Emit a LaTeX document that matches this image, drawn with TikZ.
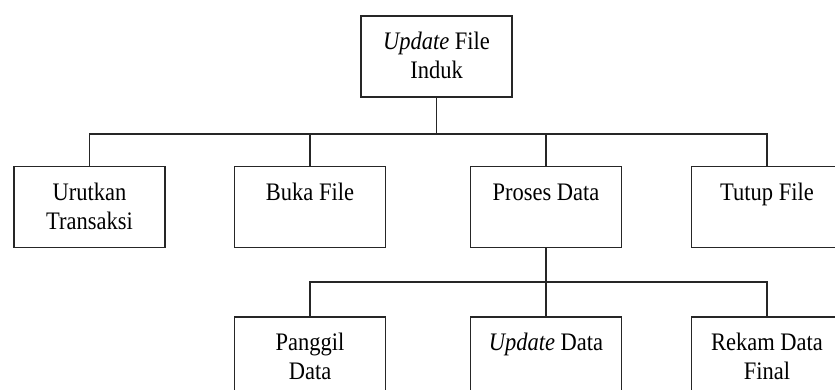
\documentclass[tikz,border=0pt]{standalone}
\usepackage{graphicx}
\usepackage{fontspec}
\setmainfont{Liberation Serif}
% box labels: Times-like face, slightly tall
\newcommand\boxlabel[1]{\scalebox{1}[1.12]{\parbox[t]{150pt}{\centering #1}}}
\begin{document}
\begin{tikzpicture}[x=1pt,y=-1pt,
  box/.style={draw=black!85, line width=1.3pt, minimum width=151pt,
    minimum height=81pt, inner sep=0pt},
  txt/.style={anchor=base, inner sep=0pt,
    font=\fontsize{22.5}{26}\selectfont},
  wire/.style={draw=black!85, line width=1.3pt}]
\clip (0,0) rectangle (835,390);
\fill[white] (0,0) rectangle (835,390);

% top level
\node[box] (root) at (436.5,56.5) {};
\node[txt] (rootT) at ([yshift=-34.5pt]root.north)
  {\boxlabel{\textit{Update} File\\Induk}};

% second level
\node[box] (urut)   at (89.5,207) {};
\node[box] (buka)   at (310,207) {};
\node[box] (proses) at (546,207) {};
\node[box] (tutup)  at (767,207) {};
\node[txt] (urutT)   at ([yshift=-34.5pt]urut.north)   {\boxlabel{Urutkan\\Transaksi}};
\node[txt] (bukaT)   at ([yshift=-34.5pt]buka.north)   {\boxlabel{Buka File}};
\node[txt] (prosesT) at ([yshift=-34.5pt]proses.north) {\boxlabel{Proses Data}};
\node[txt] (tutupT)  at ([yshift=-34.5pt]tutup.north)  {\boxlabel{Tutup File}};

% third level
\node[box] (panggil) at (310,357.5) {};
\node[box] (upd)     at (546,357.5) {};
\node[box] (rekam)   at (767,357.5) {};
\node[txt] (panggilT) at ([yshift=-34.5pt]panggil.north) {\boxlabel{Panggil\\Data}};
\node[txt] (updT)     at ([yshift=-34.5pt]upd.north)     {\boxlabel{\textit{Update} Data}};
\node[txt] (rekamT)   at ([yshift=-34.5pt]rekam.north)   {\boxlabel{Rekam Data\\Final}};

% connectors
\coordinate (bus1) at (436.5,134);
\coordinate (bus2) at (546,282);
\draw[wire] (root.south) -- (bus1);
\draw[wire] (bus1) -| (urut.north);
\draw[wire] (bus1) -| (buka.north);
\draw[wire] (bus1) -| (proses.north);
\draw[wire] (bus1) -| (tutup.north);
\draw[wire] (proses.south) -- (bus2);
\draw[wire] (bus2) -| (panggil.north);
\draw[wire] (bus2) -- (upd.north);
\draw[wire] (bus2) -| (rekam.north);
\end{tikzpicture}
\end{document}
